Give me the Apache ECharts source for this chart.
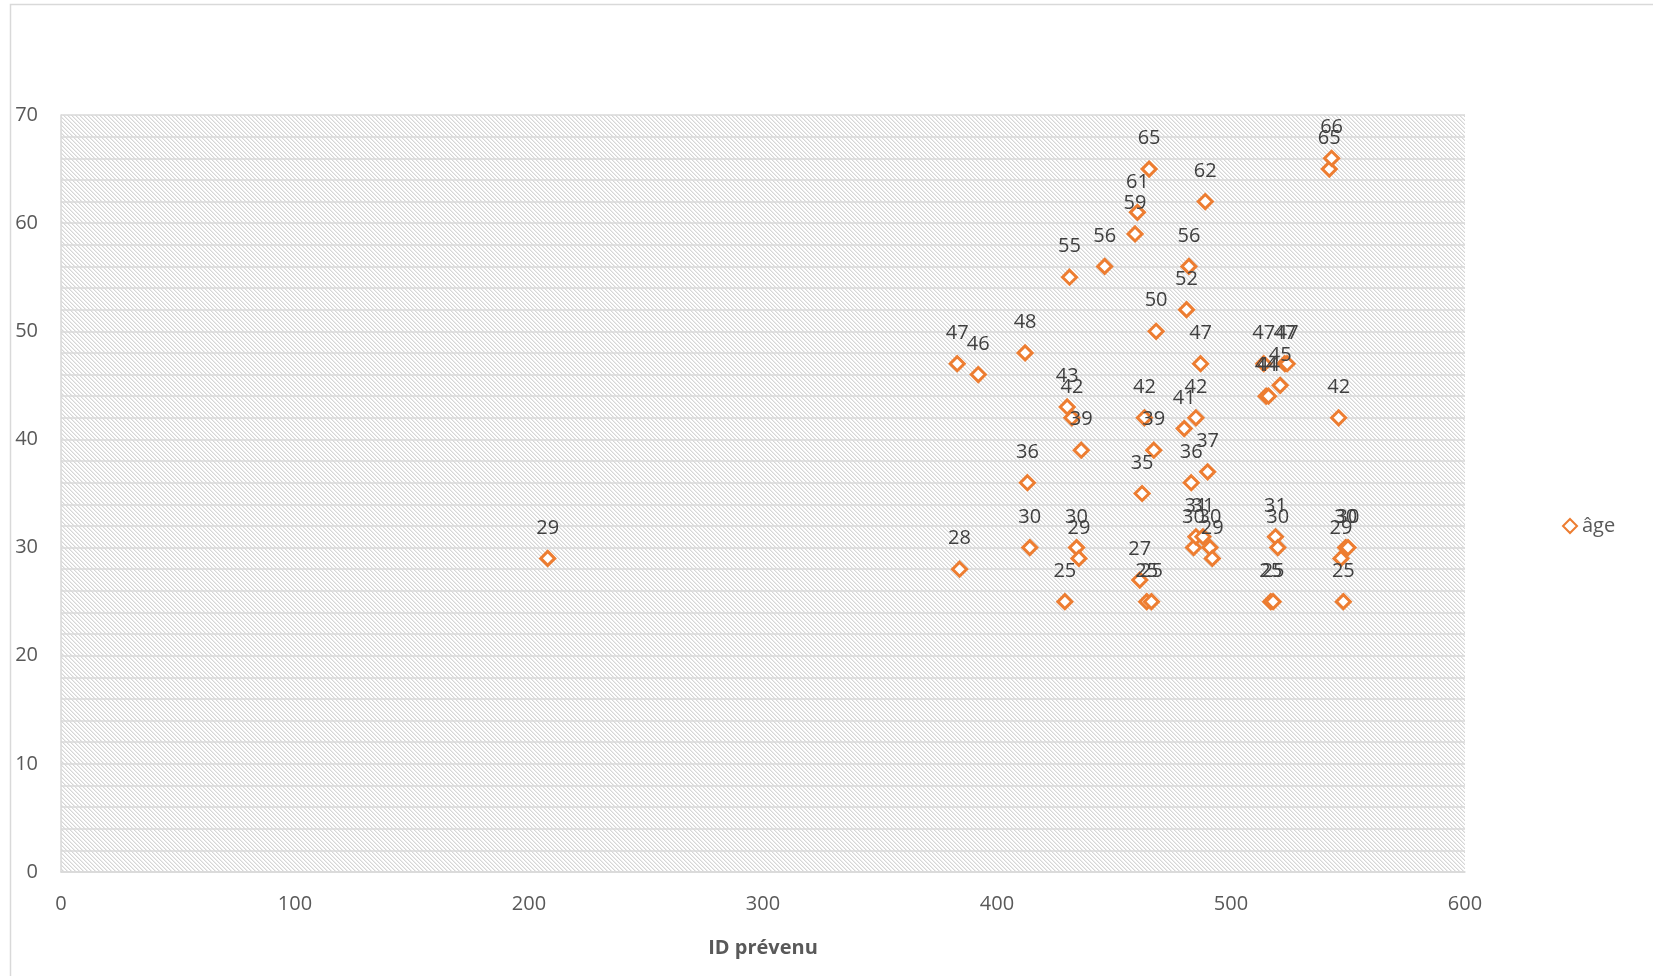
<!DOCTYPE html>
<html>
<head>
<meta charset="utf-8">
<script src="https://cdn.jsdelivr.net/npm/echarts@6/dist/echarts.min.js"></script>
<style>
  html, body { margin: 0; padding: 0; background: #fff; }
  #chart { width: 1653px; height: 976px; }
</style>
</head>
<body>
<div id="chart"></div>
<script>
// ID prévenu (x) / âge (y)
var idPrevenu = [208, 383, 384, 392, 412, 413, 414, 429, 430, 431, 432, 434, 435, 436, 446,
  459, 460, 461, 462, 463, 464, 465, 466, 467, 468, 480, 481, 482, 483, 484, 485, 485, 487,
  488, 489, 490, 491, 492, 514, 515, 516, 517, 518, 519, 520, 521, 523, 524, 542, 543, 546,
  547, 548, 549, 550];
var age = [29, 47, 28, 46, 48, 36, 30, 25, 43, 55, 42, 30, 29, 39, 56,
  59, 61, 27, 35, 42, 25, 65, 25, 39, 50, 41, 52, 56, 36, 30, 31, 42, 47,
  31, 62, 37, 30, 29, 47, 44, 44, 25, 25, 31, 30, 45, 47, 47, 65, 66, 42,
  29, 25, 30, 30];
var xTicks = [0, 100, 200, 300, 400, 500, 600];
var yTicks = [0, 10, 20, 30, 40, 50, 60, 70];

var points = [];
for (var i = 0; i < idPrevenu.length; i++) {
  points.push([idPrevenu[i], age[i]]);
}

// hachures du fond de la zone de tracé
function hatch() {
  var c = document.createElement("canvas");
  c.width = 8;
  c.height = 8;
  var ctx = c.getContext("2d");
  var img = ctx.createImageData(8, 8);
  for (var y = 0; y < 8; y++) {
    for (var x = 0; x < 8; x++) {
      var k = (x - y + 16) % 4;
      var v = 255;
      if (k === 0) v = 214;
      else if (k === 1) v = 236;
      var p = (y * 8 + x) * 4;
      img.data[p] = v;
      img.data[p + 1] = v;
      img.data[p + 2] = v;
      img.data[p + 3] = 255;
    }
  }
  ctx.putImageData(img, 0, 0);
  return c;
}

var font = "'Open Sans', 'Noto Sans', sans-serif";
var chart = echarts.init(document.getElementById("chart"));

var option = {
  animation: false,
  backgroundColor: "#fff",
  textStyle: { fontFamily: font },
  graphic: [
    {
      type: "rect",
      shape: { x: 10.5, y: 4.5, width: 1700, height: 1100 },
      style: { fill: "none", stroke: "#d9d9d9", lineWidth: 1.5 },
      silent: true,
      z: -10
    }
  ],
  grid: {
    left: 61,
    right: 188,
    top: 115,
    bottom: 104,
    show: true,
    borderWidth: 0,
    backgroundColor: { image: hatch(), repeat: "repeat" }
  },
  legend: {
    orient: "vertical",
    left: 1557,
    top: 511,
    itemWidth: 14,
    itemHeight: 14,
    itemGap: 6,
    textStyle: { fontSize: 20, color: "#595959", fontFamily: font },
    data: ["âge"]
  },
  xAxis: {
    type: "value",
    min: xTicks[0],
    max: xTicks[xTicks.length - 1],
    interval: 100,
    name: "ID prévenu",
    nameLocation: "middle",
    nameGap: 66,
    nameTextStyle: { fontSize: 20, fontWeight: "bold", color: "#595959" },
    axisLine: { show: true, lineStyle: { color: "#d9d9d9", width: 1.5 } },
    axisTick: { show: false },
    splitLine: { show: false },
    axisLabel: { fontSize: 20, color: "#595959", margin: 22 }
  },
  yAxis: {
    type: "value",
    min: yTicks[0],
    max: yTicks[yTicks.length - 1],
    interval: 10,
    axisLine: { show: true, lineStyle: { color: "#d9d9d9", width: 1.5 } },
    axisTick: { show: false },
    minorTick: { show: false, splitNumber: 5 },
    splitLine: { show: true, lineStyle: { color: "#d9d9d9", width: 1.5 } },
    minorSplitLine: { show: true, lineStyle: { color: "#d9d9d9", width: 1.5 } },
    axisLabel: { fontSize: 20, color: "#595959", margin: 23 }
  },
  series: [
    {
      name: "âge",
      type: "scatter",
      symbol: "diamond",
      symbolSize: 14,
      itemStyle: { color: "#fff", borderColor: "#ED7D31", borderWidth: 3, opacity: 1 },
      label: {
        show: true,
        position: "top",
        distance: 12,
        fontSize: 20,
        color: "#404040",
        fontFamily: font,
        formatter: function (p) { return p.value[1]; }
      },
      emphasis: { disabled: true },
      data: points
    }
  ]
};
chart.setOption(option);
</script>
</body>
</html>
